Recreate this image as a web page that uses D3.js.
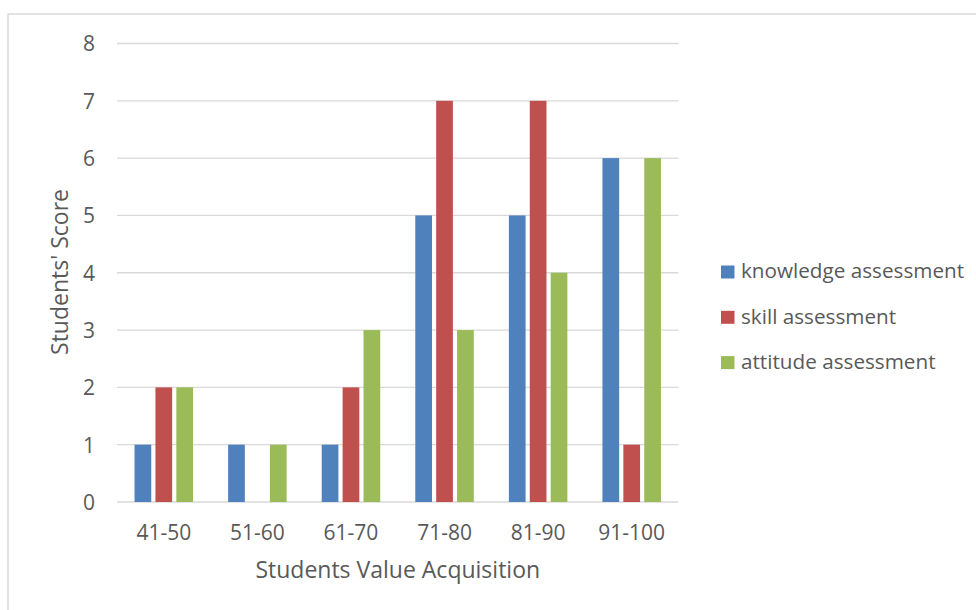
<!DOCTYPE html>
<html>
<head>
<meta charset="utf-8">
<script src="https://cdn.jsdelivr.net/npm/d3@7"></script>
<style>
  html, body { margin: 0; padding: 0; background: #fff; }
  svg { display: block; }
  text { font-family: "Open Sans", sans-serif; fill: #595959; }
</style>
</head>
<body>
<script>
const categories = ["41-50", "51-60", "61-70", "71-80", "81-90", "91-100"];
const seriesNames = ["knowledge assessment", "skill assessment", "attitude assessment"];
const knowledge = [1, 1, 1, 5, 5, 6];
const skill = [2, 0, 2, 7, 7, 1];
const attitude = [2, 1, 3, 3, 4, 6];
const yTicks = [0, 1, 2, 3, 4, 5, 6, 7, 8];
const colors = ["#4f81bd", "#c0504d", "#9bbb59"];
const xTitle = "Students Value Acquisition";
const yTitle = "Students' Score";

const seriesValues = [knowledge, skill, attitude];

const W = 976, H = 610;
const svg = d3.select("body").append("svg").attr("width", W).attr("height", H);

// outer chart border
svg.append("rect").attr("x", 8).attr("y", 14).attr("width", 1000).attr("height", 700)
  .attr("fill", "none").attr("stroke", "#d9d9d9").attr("stroke-width", 1.5);

const plot = { left: 117, right: 678.5, top: 43.5, bottom: 502 };

const x0 = d3.scaleBand().domain(categories).range([plot.left, plot.right]).padding(0);
const groupW = 62.7;
const x1 = d3.scaleBand().domain(seriesNames).range([0, groupW]).paddingInner(0.2).paddingOuter(0.1);
const y = d3.scaleLinear().domain([0, 8]).range([plot.bottom, plot.top]);

// gridlines
svg.append("g").selectAll("line").data(yTicks).join("line")
  .attr("x1", plot.left).attr("x2", plot.right)
  .attr("y1", d => y(d)).attr("y2", d => y(d))
  .attr("stroke", "#d9d9d9").attr("stroke-width", 1.3);

// y axis labels
const yAxis = d3.axisLeft(y).tickValues(yTicks).tickSize(0).tickPadding(0).tickFormat(d3.format("d"));
const yg = svg.append("g").attr("transform", `translate(${95},0)`).call(yAxis);
yg.select(".domain").remove();
yg.selectAll("text").style("font-size", "21px").attr("fill", "#595959").attr("dy", "0.35em")
  .style("font-family", "'Open Sans', sans-serif");

// x axis labels
const xAxis = d3.axisBottom(x0).tickSize(0).tickPadding(0);
const xg = svg.append("g").attr("transform", `translate(0,${plot.bottom})`).call(xAxis);
xg.select(".domain").remove();
xg.selectAll("text").style("font-size", "21px").attr("fill", "#595959").attr("y", 38).attr("dy", 0)
  .style("font-family", "'Open Sans', sans-serif");

// bars
const offset = (x0.bandwidth() - groupW) / 2;
const groups = svg.append("g").selectAll("g").data(categories).join("g")
  .attr("transform", d => `translate(${x0(d) + offset},0)`);
groups.selectAll("rect")
  .data((c, i) => seriesNames.map((s, j) => ({ s, j, v: seriesValues[j][i] })))
  .join("rect")
  .filter(d => d.v > 0)
  .attr("x", d => x1(d.s))
  .attr("width", x1.bandwidth())
  .attr("y", d => y(d.v))
  .attr("height", d => y(0) - y(d.v))
  .attr("fill", d => colors[d.j]);

// axis titles
svg.append("text").attr("x", (plot.left + plot.right) / 2).attr("y", 578)
  .attr("text-anchor", "middle").style("font-size", "23px").text(xTitle);
svg.append("text").attr("transform", `translate(68,${272}) rotate(-90)`)
  .attr("text-anchor", "middle").style("font-size", "23px").text(yTitle);

// legend
const legend = svg.append("g").selectAll("g").data(seriesNames).join("g")
  .attr("transform", (d, i) => `translate(721,${271 + i * 45.3})`);
legend.append("rect").attr("x", 0).attr("y", -5.5).attr("width", 13.5).attr("height", 13)
  .attr("fill", (d, i) => colors[i]);
legend.append("text").attr("x", 20).attr("y", 0).attr("dy", "0.35em")
  .style("font-size", "20.7px").text(d => d);
</script>
</body>
</html>
